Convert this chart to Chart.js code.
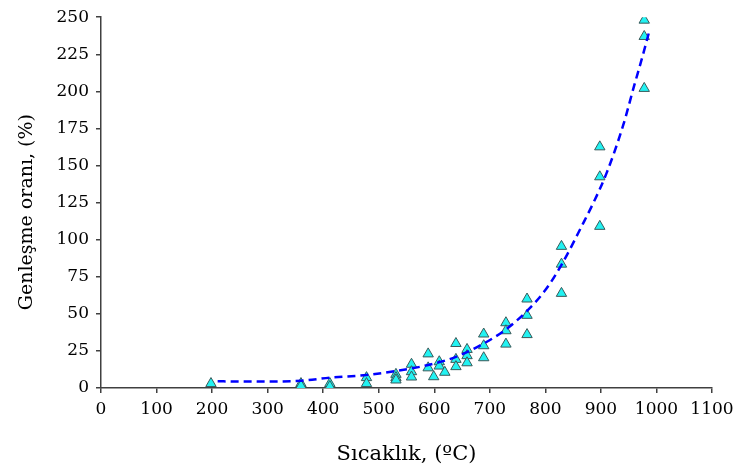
<!DOCTYPE html>
<html>
<head>
<meta charset="utf-8">
<script src="https://cdn.jsdelivr.net/npm/chart.js"></script>
<style>
  html, body { margin: 0; padding: 0; background: #fff; }
  #wrap { width: 746px; height: 471px; }
</style>
</head>
<body>
<div id="wrap"><canvas id="c"></canvas></div>
<script>
// measured points (temperature, expansion %)
const tempPts = [198, 360, 360, 412, 412, 478, 478, 531, 531, 531, 559, 559, 559,
  589, 589, 599, 609, 609, 619, 639, 639, 639, 659, 659, 659,
  689, 689, 689, 729, 729, 729, 767, 767, 767, 829, 829, 829,
  898, 898, 898, 978, 978, 978];
const expPts = [3, 3, 1.5, 3, 1, 7, 3, 9.2, 7, 5.4, 16, 11, 7.4,
  23, 13.6, 7.6, 17.7, 14.8, 10.6, 30, 19.3, 14.4, 26, 21.8, 17,
  36.4, 28.5, 20.4, 44, 38.6, 29.6, 60, 49, 36, 95.5, 83.5, 63.8,
  162.6, 142.4, 109, 248, 237, 202];

// trend line
const trendT = [210, 300, 361, 412, 478, 531, 589, 639, 689, 729, 767, 800, 829, 868, 886, 910, 940, 960, 973, 986];
const trendY = [4.5, 4.3, 4.9, 7, 8.8, 11.5, 15.5, 21, 30, 39.5, 52, 66, 83, 111, 124.5, 144.7, 177, 204, 221, 239];

const xTicks = [0, 100, 200, 300, 400, 500, 600, 700, 800, 900, 1000, 1100];
const yTicks = [0, 25, 50, 75, 100, 125, 150, 175, 200, 225, 250];

const font = 'DejaVu Serif';
const axisColor = '#404040';

const ctx = document.getElementById('c').getContext('2d');
new Chart(ctx, {
  type: 'scatter',
  data: {
    datasets: [
      {
        data: trendT.map((t, i) => ({ x: t, y: trendY[i] })),
        showLine: true,
        borderColor: '#0000ff',
        borderWidth: 2.5,
        borderDash: [8, 5],
        pointRadius: 0,
        cubicInterpolationMode: 'monotone',
        order: 0
      },
      {
        data: tempPts.map((t, i) => ({ x: t, y: expPts[i] })),
        pointStyle: 'triangle',
        pointRadius: 6,
        backgroundColor: '#22f2f2',
        borderColor: '#3a5a5a',
        borderWidth: 1,
        order: 1
      }
    ]
  },
  options: {
    responsive: true,
    maintainAspectRatio: false,
    animation: false,
    layout: { padding: { top: 17, right: 34, left: 0, bottom: 0 } },
    plugins: { legend: { display: false }, tooltip: { enabled: false } },
    scales: {
      x: {
        type: 'linear',
        min: 0, max: 1100,
        afterBuildTicks: s => { s.ticks = xTicks.map(v => ({ value: v })); },
        afterFit: s => { s.height = 83; },
        grid: { display: true, drawOnChartArea: false, drawTicks: true, tickLength: 5, color: axisColor, lineWidth: 1.5 },
        border: { display: true, color: axisColor, width: 1.5 },
        ticks: { color: '#000', font: { family: font, size: 17 }, padding: 6, maxRotation: 0, autoSkip: false, callback: v => String(v) },
        title: { display: true, text: 'Sıcaklık, (ºC)', color: '#000', font: { family: font, size: 21 }, padding: { top: 4 } }
      },
      y: {
        min: 0, max: 250,
        afterBuildTicks: s => { s.ticks = yTicks.map(v => ({ value: v })); },
        afterFit: s => { s.width = 101; },
        grid: { display: true, drawOnChartArea: false, drawTicks: true, tickLength: 5, color: axisColor, lineWidth: 1.5 },
        border: { display: true, color: axisColor, width: 1.5 },
        ticks: { color: '#000', font: { family: font, size: 17 }, padding: 7, autoSkip: false, callback: v => String(v) },
        // trailing en spaces nudge the rotated title down a little, as in the original
        title: { display: true, text: 'Genleşme oranı, (%)\u2002\u2002', color: '#000', font: { family: font, size: 19 }, padding: { top: 16, bottom: 0 } }
      }
    }
  }
});
</script>
</body>
</html>
